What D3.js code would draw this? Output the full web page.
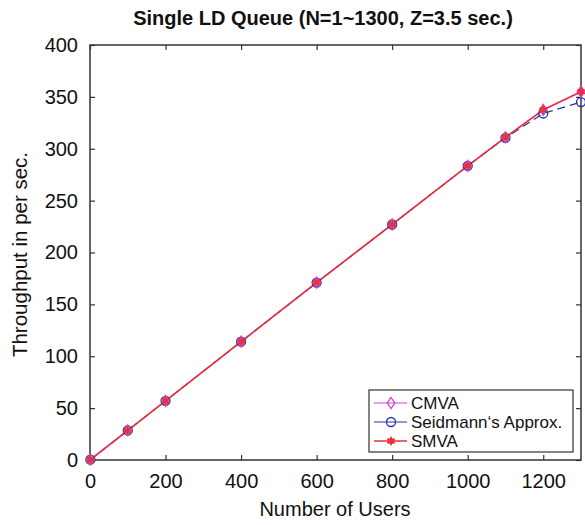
<!DOCTYPE html>
<html><head><meta charset="utf-8">
<script src="https://cdn.jsdelivr.net/npm/d3@7"></script>
<style>body{margin:0;background:#fff}svg{display:block}</style>
</head><body>
<script>
const users = [1, 100, 200, 400, 600, 800, 1000, 1100, 1200, 1300];
const cmva = [0.3, 28.5, 57, 114, 171, 227, 283.5, 311, 337.5, 355];
const seidmann = [0.3, 28.5, 57, 114, 171, 227, 283.5, 310.5, 334, 345];
const smva = [0.3, 28.5, 57, 114, 171, 227, 283.5, 311, 337.5, 355];
const xTicks = [0, 200, 400, 600, 800, 1000, 1200];
const yTicks = [0, 50, 100, 150, 200, 250, 300, 350, 400];
const seriesNames = ["CMVA", "Seidmann\u2018s Approx.", "SMVA"];

const W = 585, H = 525;
const m = {l: 90, r: 4, t: 45, b: 65};
const svg = d3.select("body").append("svg").attr("width", W).attr("height", H)
  .style("font-family", "'Liberation Sans', Arial, Helvetica, sans-serif");
const x = d3.scaleLinear().domain([0, 1300]).range([m.l, W - m.r]);
const y = d3.scaleLinear().domain([0, 400]).range([H - m.b, m.t]);
const axisCol = "#333";

const tl = 5;
function styleAxis(g) {
  g.select(".domain").remove();
  g.selectAll(".tick line").attr("stroke", axisCol).attr("stroke-width", 1.2);
  g.selectAll(".tick text").attr("fill", "#111").style("font-size", "20px");
}
svg.append("g").attr("transform", `translate(0,${y(0)})`)
  .call(d3.axisBottom(x).tickValues(xTicks).tickSize(-tl).tickPadding(14).tickFormat(d3.format("d")))
  .call(styleAxis);
svg.append("g").attr("transform", `translate(0,${y(400)})`)
  .call(d3.axisTop(x).tickValues(xTicks).tickSize(-tl).tickFormat(""))
  .call(styleAxis);
svg.append("g").attr("transform", `translate(${x(0)},0)`)
  .call(d3.axisLeft(y).tickValues(yTicks).tickSize(-tl).tickPadding(12).tickFormat(d3.format("d")))
  .call(styleAxis);
svg.append("g").attr("transform", `translate(${x(1300)},0)`)
  .call(d3.axisRight(y).tickValues(yTicks).tickSize(-tl).tickFormat(""))
  .call(styleAxis);
svg.append("rect").attr("x", x(0)).attr("y", y(400)).attr("width", x(1300) - x(0)).attr("height", y(0) - y(400))
  .attr("fill", "none").attr("stroke", axisCol).attr("stroke-width", 1.5);

svg.append("text").attr("x", 323).attr("y", 25).attr("text-anchor", "middle")
  .style("font-size", "20px").style("font-weight", "bold").attr("fill", "#111")
  .text("Single LD Queue (N=1~1300, Z=3.5 sec.)");
svg.append("text").attr("x", 335).attr("y", 516).attr("text-anchor", "middle")
  .style("font-size", "20px").attr("fill", "#111").text("Number of Users");
svg.append("text").attr("transform", `translate(27,${(y(0) + y(400)) / 2 + 2}) rotate(-90)`)
  .attr("text-anchor", "middle").style("font-size", "20.5px").attr("fill", "#111")
  .text("Throughput in per sec.");

const colC = "#cc44cc", colS = "#2233aa", colM = "#e8333a";
const line = d3.line().x((d, i) => x(users[i])).y(d => y(d));

svg.append("path").datum(seidmann).attr("d", line).attr("fill", "none")
  .attr("stroke", colS).attr("stroke-width", 1.2).attr("stroke-dasharray", "8,5");
svg.append("path").datum(cmva).attr("d", line).attr("fill", "none")
  .attr("stroke", colC).attr("stroke-width", 1.2);
svg.append("path").datum(smva).attr("d", line).attr("fill", "none")
  .attr("stroke", colM).attr("stroke-width", 1.6);

function diamond(g, cx, cy, c) {
  g.append("path").attr("d", `M${cx},${cy - 5.5}L${cx + 3.8},${cy}L${cx},${cy + 5.5}L${cx - 3.8},${cy}Z`)
    .attr("fill", "none").attr("stroke", c).attr("stroke-width", 1.3);
}
function circle(g, cx, cy, c) {
  g.append("circle").attr("cx", cx).attr("cy", cy).attr("r", 4.5)
    .attr("fill", "none").attr("stroke", c).attr("stroke-width", 1.3);
}
function star(g, cx, cy, c) {
  const r = 4.2;
  [0, 60, 120].forEach(a => {
    const rad = a * Math.PI / 180;
    g.append("line").attr("x1", cx - r * Math.sin(rad)).attr("y1", cy - r * Math.cos(rad))
      .attr("x2", cx + r * Math.sin(rad)).attr("y2", cy + r * Math.cos(rad))
      .attr("stroke", c).attr("stroke-width", 1.8);
  });
  g.append("circle").attr("cx", cx).attr("cy", cy).attr("r", 3).attr("fill", c);
}
const mk = svg.append("g");
seidmann.forEach((v, i) => circle(mk, x(users[i]), y(v), colS));
cmva.forEach((v, i) => diamond(mk, x(users[i]), y(v), colC));
smva.forEach((v, i) => star(mk, x(users[i]), y(v), colM));

const lg = svg.append("g");
lg.append("rect").attr("x", 369).attr("y", 390).attr("width", 204).attr("height", 62)
  .attr("fill", "#fff").attr("stroke", axisCol).attr("stroke-width", 1.2);
const cols = [colC, colS, colM];
const fns = [diamond, circle, star];
seriesNames.forEach((n, i) => {
  const ly = 403 + i * 19;
  lg.append("line").attr("x1", 374).attr("x2", 407).attr("y1", ly).attr("y2", ly)
    .attr("stroke", cols[i]).attr("stroke-width", i === 2 ? 1.6 : 1.2);
  fns[i](lg, 391, ly, cols[i]);
  lg.append("text").attr("x", 411).attr("y", ly + 6).style("font-size", "17px").attr("fill", "#111").text(n);
});
</script>
</body></html>
